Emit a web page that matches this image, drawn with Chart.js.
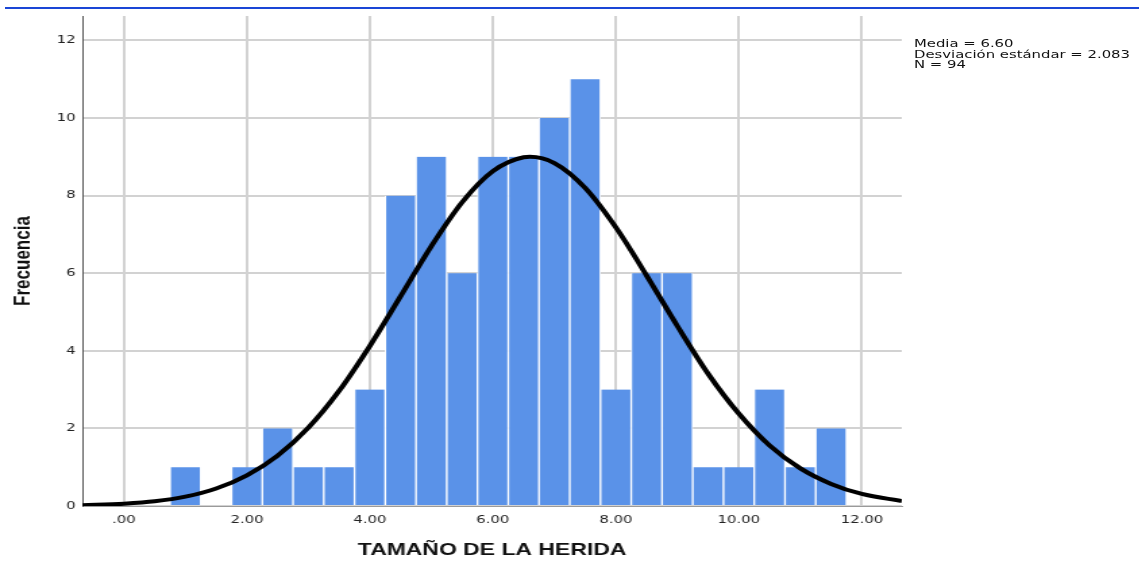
<!DOCTYPE html>
<html>
<head>
<meta charset="utf-8">
<script src="https://cdn.jsdelivr.net/npm/chart.js@4.4.1/dist/chart.umd.min.js"></script>
<style>
    html, body { margin: 0; padding: 0; background: #fff; }
    #topRule { position: absolute; left: 5px; top: 7px; width: 1134px; height: 2px; background: #1a46d6; }
    /* the reference is a horizontally stretched screenshot, so the whole chart is stretched the same way */
    #wrap { position: absolute; left: 0; top: 0; width: 847px; height: 561px; transform: scaleX(1.35); transform-origin: 0 0; }
    #stats { position: absolute; left: 677px; top: 39px; font: 11px 'DejaVu Sans', sans-serif; line-height: 10.5px; color: #111; white-space: nowrap; }
</style>
</head>
<body>
<div id="topRule"></div>
<div id="wrap">
    <canvas id="hist" width="847" height="561"></canvas>
    <div id="stats">Media = 6.60<br>Desviación estándar = 2.083<br>N = 94</div>
</div>
<script>
// histogram bins (centre of each 0.5 wide bin) and their counts
const binCenters = [1, 2, 2.5, 3, 3.5, 4, 4.5, 5, 5.5, 6, 6.5, 7, 7.5, 8, 8.5, 9, 9.5, 10, 10.5, 11, 11.5];
const counts = [1, 1, 2, 1, 1, 3, 8, 9, 6, 9, 9, 10, 11, 3, 6, 6, 1, 1, 3, 1, 2];

// normal curve
const curveX = [-0.68, 0, 0.5, 1, 1.5, 2, 2.5, 3, 3.5, 4, 4.5, 5, 5.5, 6, 6.5, 6.6, 7, 7.5, 8, 8.5, 9, 9.5, 10, 10.5, 11, 11.5, 12, 12.65];
const curveY = [0.02, 0.06, 0.12, 0.24, 0.45, 0.79, 1.3, 2.02, 2.97, 4.13, 5.41, 6.7, 7.83, 8.63, 8.99, 9.0, 8.84, 8.2, 7.18, 5.94, 4.64, 3.41, 2.38, 1.56, 0.97, 0.57, 0.31, 0.13];

const xTickValues = [0, 2, 4, 6, 8, 10, 12];
const yTickValues = [0, 2, 4, 6, 8, 10, 12];

const xTitle = 'TAMAÑO DE LA HERIDA';
const yTitle = 'Frecuencia';

function drawHistogram() {
    const canvas = document.getElementById('hist');

    new Chart(canvas, {
        type: 'bar',
        data: {
            datasets: [{
                type: 'line',
                data: curveX.map((x, i) => ({ x: x, y: curveY[i] })),
                borderColor: '#000',
                borderWidth: 4,
                pointRadius: 0,
                cubicInterpolationMode: 'monotone',
                fill: false,
                order: 0
            }, {
                type: 'bar',
                data: binCenters.map((x, i) => ({ x: x, y: counts[i] })),
                backgroundColor: '#5a92e8',
                borderColor: '#ffffff',
                borderWidth: { left: 1, right: 1, top: 0, bottom: 0 },
                barPercentage: 1,
                categoryPercentage: 1,
                order: 1
            }]
        },
        options: {
            responsive: false,
            animation: false,
            layout: { padding: { top: 16, right: 179, left: 0, bottom: 0 } },
            plugins: {
                legend: { display: false },
                tooltip: { enabled: false }
            },
            scales: {
                x: {
                    type: 'linear',
                    offset: false,
                    min: -0.676,
                    max: 12.65,
                    afterBuildTicks: scale => { scale.ticks = xTickValues.map(v => ({ value: v })); },
                    afterFit: scale => { scale.height = 55; },
                    grid: { color: '#d2d2d2', lineWidth: 2, drawTicks: false, offset: false },
                    border: { color: '#9a9a9a', width: 1 },
                    ticks: {
                        padding: 8,
                        color: '#222',
                        font: { family: 'DejaVu Sans', size: 11 },
                        callback: v => v === 0 ? '.00' : v.toFixed(2)
                    },
                    title: {
                        display: true,
                        text: xTitle,
                        color: '#111',
                        font: { family: 'Liberation Sans', size: 17, weight: 'bold' },
                        padding: { top: 0, bottom: 0 }
                    }
                },
                y: {
                    min: 0,
                    max: 12.63,
                    afterBuildTicks: scale => { scale.ticks = yTickValues.map(v => ({ value: v })); },
                    afterFit: scale => { scale.width = 61; },
                    grid: { color: '#d2d2d2', lineWidth: 2, drawTicks: false },
                    border: { color: '#555', width: 1 },
                    ticks: {
                        padding: 5,
                        color: '#222',
                        font: { family: 'DejaVu Sans', size: 11 }
                    },
                    title: {
                        display: true,
                        text: yTitle,
                        color: '#111',
                        font: { family: 'Liberation Sans', size: 17, weight: 'bold' },
                        padding: { top: 7, bottom: 0 }
                    }
                }
            }
        }
    });
}

drawHistogram();
</script>
</body>
</html>
